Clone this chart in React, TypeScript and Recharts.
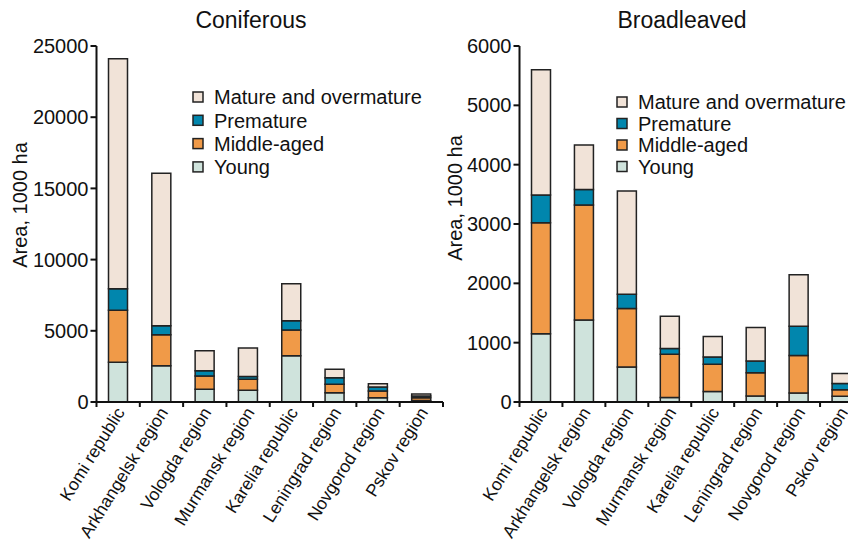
import React from 'react';
import { BarChart, Bar, XAxis, YAxis, Legend } from 'recharts';

const regions = [
  'Komi republic',
  'Arkhangelsk region',
  'Vologda region',
  'Murmansk region',
  'Karelia republic',
  'Leningrad region',
  'Novgorod region',
  'Pskov region',
];

// Coniferous, 1000 ha
const conYoung = [2800, 2550, 900, 820, 3250, 650, 300, 100];
const conMiddle = [3650, 2180, 920, 780, 1800, 590, 470, 200];
const conPremature = [1500, 630, 380, 190, 650, 470, 280, 120];
const conMature = [16150, 10700, 1400, 2000, 2600, 590, 240, 140];
const conTicks = [0, 5000, 10000, 15000, 20000, 25000];

// Broadleaved, 1000 ha
const brYoung = [1150, 1380, 590, 75, 175, 100, 150, 95];
const brMiddle = [1870, 1940, 985, 730, 460, 395, 635, 110];
const brPremature = [470, 260, 240, 95, 125, 195, 490, 105];
const brMature = [2110, 750, 1740, 545, 345, 565, 870, 170];
const brTicks = [0, 1000, 2000, 3000, 4000, 5000, 6000];

const series = [
  { key: 'young', name: 'Young', color: '#cfe3dc' },
  { key: 'middle', name: 'Middle-aged', color: '#f09a48' },
  { key: 'premature', name: 'Premature', color: '#0186ad' },
  { key: 'mature', name: 'Mature and overmature', color: '#f1e3d8' },
];

const buildRows = (y: number[], m: number[], p: number[], o: number[]) =>
  regions.map((region, i) => ({ region, young: y[i], middle: m[i], premature: p[i], mature: o[i] }));

const conData = buildRows(conYoung, conMiddle, conPremature, conMature);
const brData = buildRows(brYoung, brMiddle, brPremature, brMature);

const FONT = '"Liberation Sans", Arial, Helvetica, sans-serif';
const INK = '#111';

const makeTick = (band: number, count: number) => (p: any) => {
  const { x, y, payload, index } = p;
  const lx = x + 2;
  const ly = y + 7;
  return (
    <g>
      <line x1={x - band / 2} y1={y} x2={x - band / 2} y2={y + 5} stroke={INK} strokeWidth={2} />
      {index === count - 1 && (
        <line x1={x + band / 2} y1={y} x2={x + band / 2} y2={y + 5} stroke={INK} strokeWidth={2} />
      )}
      <text
        x={lx}
        y={ly}
        dy="0.35em"
        textAnchor="end"
        transform={`rotate(-58, ${lx}, ${ly})`}
        fontSize={17.5}
        fill={INK}
        fontFamily={FONT}
      >
        {payload.value}
      </text>
    </g>
  );
};

const makeLegend = (rowGap: number) => () => (
  <svg width={280} height={rowGap * 4 + 10} style={{ overflow: 'visible', display: 'block' }}>
    {[...series].reverse().map((s, i) => (
      <g key={s.key}>
        <rect x={1} y={i * rowGap + 1} width={10} height={10} fill={s.color} stroke="#222" strokeWidth={1.5} />
        <text x={22} y={i * rowGap + 6} dy="0.36em" fontSize={20} fill={INK} fontFamily={FONT}>
          {s.name}
        </text>
      </g>
    ))}
  </svg>
);

interface PanelProps {
  data: any[];
  ticks: number[];
  left: number;
  width: number;
  axisWidth: number;
  marginRight: number;
  legendLeft: number;
  legendTop: number;
  legendGap: number;
}

const Panel: React.FC<PanelProps> = ({ data, ticks, left, width, axisWidth, marginRight, legendLeft, legendTop, legendGap }) => {
  const band = (width - axisWidth - marginRight) / regions.length;
  return (
    <div style={{ position: 'absolute', left, top: 0 }}>
      <BarChart width={width} height={550} data={data} margin={{ top: 46, right: marginRight, left: 0, bottom: 8 }}>
        <XAxis
          dataKey="region"
          interval={0}
          height={140}
          tickSize={0}
          tickMargin={0}
          tickLine={false}
          axisLine={{ stroke: INK, strokeWidth: 2 }}
          tick={makeTick(band, regions.length)}
        />
        <YAxis
          width={axisWidth}
          domain={[ticks[0], ticks[ticks.length - 1]]}
          ticks={ticks}
          interval={0}
          tickSize={6}
          tickMargin={2}
          axisLine={{ stroke: INK, strokeWidth: 2 }}
          tickLine={{ stroke: INK, strokeWidth: 2 }}
          tick={{ fill: INK, fontSize: 20, fontFamily: FONT }}
        />
        <Legend
          layout="vertical"
          align="center"
          verticalAlign="middle"
          content={makeLegend(legendGap)}
          wrapperStyle={{ position: 'absolute', left: legendLeft, top: legendTop, width: 280, height: 100 }}
        />
        {series.map((s) => (
          <Bar
            key={s.key}
            dataKey={s.key}
            name={s.name}
            stackId="a"
            fill={s.color}
            stroke="#222"
            strokeWidth={1.5}
            barSize={19}
            isAnimationActive={false}
          />
        ))}
      </BarChart>
    </div>
  );
};

const axisTitle: React.CSSProperties = {
  position: 'absolute',
  fontSize: 20,
  fontFamily: FONT,
  color: INK,
  whiteSpace: 'nowrap',
  transform: 'translate(-50%, -50%) rotate(-90deg)',
  lineHeight: 1,
};

const chartTitle: React.CSSProperties = {
  position: 'absolute',
  fontSize: 23,
  fontFamily: FONT,
  color: INK,
  whiteSpace: 'nowrap',
  transform: 'translate(-50%, -50%)',
  lineHeight: 1,
};

export default function App() {
  return (
    <div style={{ position: 'relative', width: 856, height: 550, margin: -8, overflow: 'hidden', background: '#fff' }}>
      <Panel
        data={conData}
        ticks={conTicks}
        left={0}
        width={460}
        axisWidth={96.5}
        marginRight={17}
        legendLeft={192}
        legendTop={91}
        legendGap={23.3}
      />
      <Panel
        data={brData}
        ticks={brTicks}
        left={430}
        width={436}
        axisWidth={89.5}
        marginRight={3}
        legendLeft={186}
        legendTop={96}
        legendGap={21.5}
      />
      <div style={{ ...chartTitle, left: 251, top: 20 }}>Coniferous</div>
      <div style={{ ...chartTitle, left: 682, top: 20 }}>Broadleaved</div>
      <div style={{ ...axisTitle, left: 20, top: 205 }}>Area, 1000 ha</div>
      <div style={{ ...axisTitle, left: 455, top: 198 }}>Area, 1000 ha</div>
    </div>
  );
}
